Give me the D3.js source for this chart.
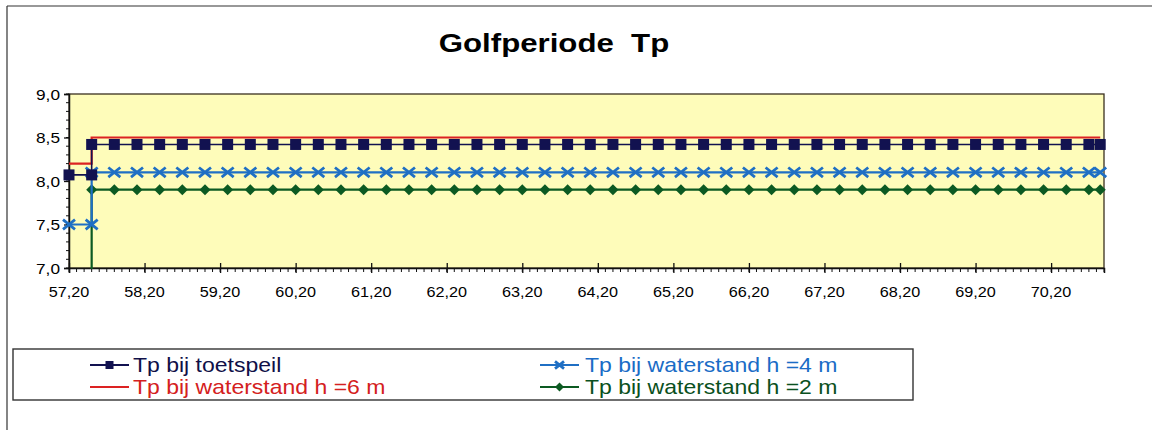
<!DOCTYPE html>
<html>
<head>
<meta charset="utf-8">
<script src="https://cdn.jsdelivr.net/npm/d3@7"></script>
<style>
  html, body { margin: 0; padding: 0; background: #ffffff; }
  svg { display: block; font-family: "Liberation Sans", Arial, Helvetica, sans-serif; }
</style>
</head>
<body>
<svg id="chart" width="1163" height="430"></svg>
<script>
// ---------- DATA ----------
const chartTitle = "Golfperiode\u00a0\u00a0Tp";
const xTickValues = [57.2, 58.2, 59.2, 60.2, 61.2, 62.2, 63.2, 64.2, 65.2, 66.2, 67.2, 68.2, 69.2, 70.2];
const yTickValues = [7.0, 7.5, 8.0, 8.5, 9.0];
const xDomain = [57.2, 70.9];
const yDomain = [7.0, 9.0];

// x positions (km); 57.5 appears twice to make the step
const xValues = [57.2, 57.5, 57.5, 57.8, 58.1, 58.4, 58.7, 59.0, 59.3, 59.6, 59.9, 60.2,
  60.5, 60.8, 61.1, 61.4, 61.7, 62.0, 62.3, 62.6, 62.9, 63.2, 63.5, 63.8, 64.1, 64.4,
  64.7, 65.0, 65.3, 65.6, 65.9, 66.2, 66.5, 66.8, 67.1, 67.4, 67.7, 68.0, 68.3, 68.6,
  68.9, 69.2, 69.5, 69.8, 70.1, 70.4, 70.7, 70.85];

const tpToetspeil = [8.07, 8.07, 8.42, 8.42, 8.42, 8.42, 8.42, 8.42, 8.42, 8.42, 8.42, 8.42,
  8.42, 8.42, 8.42, 8.42, 8.42, 8.42, 8.42, 8.42, 8.42, 8.42, 8.42, 8.42, 8.42, 8.42,
  8.42, 8.42, 8.42, 8.42, 8.42, 8.42, 8.42, 8.42, 8.42, 8.42, 8.42, 8.42, 8.42, 8.42,
  8.42, 8.42, 8.42, 8.42, 8.42, 8.42, 8.42, 8.42];
const tpH6 = [8.2, 8.2, 8.5, 8.5, 8.5, 8.5, 8.5, 8.5, 8.5, 8.5, 8.5, 8.5,
  8.5, 8.5, 8.5, 8.5, 8.5, 8.5, 8.5, 8.5, 8.5, 8.5, 8.5, 8.5, 8.5, 8.5,
  8.5, 8.5, 8.5, 8.5, 8.5, 8.5, 8.5, 8.5, 8.5, 8.5, 8.5, 8.5, 8.5, 8.5,
  8.5, 8.5, 8.5, 8.5, 8.5, 8.5, 8.5, 8.5];
const tpH4 = [7.5, 7.5, 8.1, 8.1, 8.1, 8.1, 8.1, 8.1, 8.1, 8.1, 8.1, 8.1,
  8.1, 8.1, 8.1, 8.1, 8.1, 8.1, 8.1, 8.1, 8.1, 8.1, 8.1, 8.1, 8.1, 8.1,
  8.1, 8.1, 8.1, 8.1, 8.1, 8.1, 8.1, 8.1, 8.1, 8.1, 8.1, 8.1, 8.1, 8.1,
  8.1, 8.1, 8.1, 8.1, 8.1, 8.1, 8.1, 8.1];
const tpH2 = [0.0, 0.0, 7.9, 7.9, 7.9, 7.9, 7.9, 7.9, 7.9, 7.9, 7.9, 7.9,
  7.9, 7.9, 7.9, 7.9, 7.9, 7.9, 7.9, 7.9, 7.9, 7.9, 7.9, 7.9, 7.9, 7.9,
  7.9, 7.9, 7.9, 7.9, 7.9, 7.9, 7.9, 7.9, 7.9, 7.9, 7.9, 7.9, 7.9, 7.9,
  7.9, 7.9, 7.9, 7.9, 7.9, 7.9, 7.9, 7.9];

const seriesNames = ["Tp bij toetspeil", "Tp bij waterstand h =6 m", "Tp bij waterstand h =4 m", "Tp bij waterstand h =2 m"];

// ---------- STYLE ----------
const colors = ["#121250", "#dc2222", "#1f6fc4", "#0c5a22"];
const textColors = ["#101048", "#d42020", "#1a6cc6", "#0a5020"];
const markerKinds = ["square", "none", "cross", "diamond"];

const svg = d3.select("#chart");
const W = 1163, H = 430;
const plot = { left: 69, right: 1104, top: 94, bottom: 268 };

const x = d3.scaleLinear().domain(xDomain).range([plot.left, plot.right]);
const y = d3.scaleLinear().domain(yDomain).range([plot.bottom, plot.top]);

function stext(parent, px, py, str, size, sx, anchor, weight, fill) {
  return parent.append("text")
    .attr("transform", `translate(${px},${py}) scale(${sx},1)`)
    .attr("text-anchor", anchor)
    .attr("font-size", size)
    .attr("font-weight", weight)
    .attr("fill", fill)
    .text(str);
}

// outer frame (top + left visible)
svg.append("line").attr("x1", 7).attr("x2", 1152).attr("y1", 6).attr("y2", 6)
  .attr("stroke", "#333").attr("stroke-width", 1.2);
svg.append("line").attr("x1", 7).attr("x2", 7).attr("y1", 6).attr("y2", H)
  .attr("stroke", "#333").attr("stroke-width", 1.2);

// title
stext(svg, 554, 52, chartTitle, 26, 1.2, "middle", "bold", "#000");

// plot background
svg.append("rect")
  .attr("x", plot.left).attr("y", plot.top)
  .attr("width", plot.right - plot.left).attr("height", plot.bottom - plot.top)
  .attr("fill", "#fefcba").attr("stroke", "#3a3020").attr("stroke-width", 1.3);

// y axis
const yAxis = d3.axisLeft(y).tickValues(yTickValues).tickSize(5).tickFormat("");
const gy = svg.append("g").attr("transform", `translate(${plot.left},0)`).call(yAxis);
gy.select(".domain").attr("stroke", "#111").attr("stroke-width", 1.5);
gy.selectAll(".tick line").attr("stroke", "#111").attr("stroke-width", 1.3);
const yMinor = d3.range(yDomain[0], yDomain[1] + 0.001, 0.1);
gy.selectAll("line.minor").data(yMinor).enter().append("line")
  .attr("class", "minor").attr("x1", -3).attr("x2", 0)
  .attr("y1", d => y(d)).attr("y2", d => y(d))
  .attr("stroke", "#111").attr("stroke-width", 1);
yTickValues.forEach(v => {
  stext(svg, 60, y(v) + 5.5, d3.format(".1f")(v).replace(".", ","), 15, 1.15, "end", "normal", "#000");
});

// x axis
const xAxis = d3.axisBottom(x).tickValues(xTickValues).tickSize(5).tickFormat("");
const gx = svg.append("g").attr("transform", `translate(0,${plot.bottom})`).call(xAxis);
gx.select(".domain").attr("stroke", "#111").attr("stroke-width", 1.5);
gx.selectAll(".tick line").attr("stroke", "#111").attr("stroke-width", 1.3).attr("y1", -5);
const xMinor = d3.range(xDomain[0], xDomain[1] + 0.001, 0.1);
gx.selectAll("line.minor").data(xMinor).enter().append("line")
  .attr("class", "minor").attr("x1", d => x(d)).attr("x2", d => x(d))
  .attr("y1", 0).attr("y2", 4)
  .attr("stroke", "#111").attr("stroke-width", 1);
xTickValues.forEach(v => {
  stext(svg, x(v), 297, d3.format(".2f")(v).replace(".", ","), 15, 1.08, "middle", "normal", "#000");
});

// clip (vertical only)
svg.append("clipPath").attr("id", "clipV").append("rect")
  .attr("x", 0).attr("y", plot.top).attr("width", W).attr("height", plot.bottom - plot.top + 1);

const seriesData = [tpToetspeil, tpH6, tpH4, tpH2];
const gSeries = svg.append("g").attr("clip-path", "url(#clipV)");

const line = d3.line().x(d => x(d[0])).y(d => y(d[1]));

function drawMarker(g, kind, cx, cy, color, s) {
  if (kind === "square") {
    g.append("rect").attr("x", cx - s / 2).attr("y", cy - s / 2).attr("width", s).attr("height", s)
      .attr("fill", color);
  } else if (kind === "diamond") {
    g.append("path").attr("d", `M${cx},${cy - s / 2}L${cx + s / 2},${cy}L${cx},${cy + s / 2}L${cx - s / 2},${cy}Z`)
      .attr("fill", color);
  } else if (kind === "cross") {
    const h = s / 2;
    g.append("path").attr("d", `M${cx - h},${cy - h * 0.8}L${cx + h},${cy + h * 0.8}M${cx - h},${cy + h * 0.8}L${cx + h},${cy - h * 0.8}`)
      .attr("stroke", color).attr("stroke-width", 2.8).attr("fill", "none");
  }
}

// draw order: red, green, blue, navy
[1, 3, 2, 0].forEach(i => {
  const pts = xValues.map((xv, j) => [xv, seriesData[i][j]]);
  gSeries.append("path").datum(pts).attr("d", line)
    .attr("fill", "none").attr("stroke", colors[i])
    .attr("stroke-width", i === 0 ? 1.6 : 2.2);
  if (markerKinds[i] !== "none") {
    const gm = gSeries.append("g");
    pts.forEach(p => drawMarker(gm, markerKinds[i], x(p[0]), y(p[1]), colors[i],
      markerKinds[i] === "square" ? 11 : (markerKinds[i] === "diamond" ? 11 : 12)));
  }
});

// legend
const lg = svg.append("g");
lg.append("rect").attr("x", 13).attr("y", 349).attr("width", 900).attr("height", 51)
  .attr("fill", "#fff").attr("stroke", "#333").attr("stroke-width", 1.4);
const legendPos = [
  { lx: 90, tx: 133, cy: 365 },
  { lx: 90, tx: 133, cy: 387 },
  { lx: 540, tx: 585, cy: 365 },
  { lx: 540, tx: 585, cy: 387 }
];
legendPos.forEach((p, i) => {
  lg.append("line").attr("x1", p.lx).attr("x2", p.lx + 39).attr("y1", p.cy).attr("y2", p.cy)
    .attr("stroke", colors[i]).attr("stroke-width", 2);
  if (markerKinds[i] !== "none") {
    drawMarker(lg, markerKinds[i], p.lx + 19.5, p.cy, colors[i], markerKinds[i] === "square" ? 8 : 9);
  }
  stext(lg, p.tx, p.cy + 7, seriesNames[i], 20, 1.15, "start", "normal", textColors[i]);
});
</script>
</body>
</html>
